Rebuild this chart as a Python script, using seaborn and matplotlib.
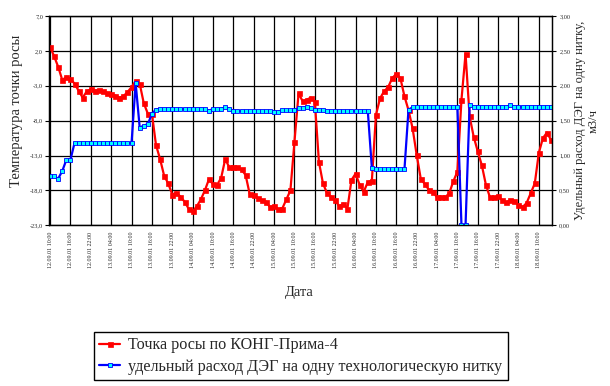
import matplotlib
matplotlib.use("Agg")
import matplotlib.pyplot as plt
import numpy as np
import pandas as pd
import seaborn as sns

# ---------------------------------------------------------------------------
# Data (read off the reference chart, one value per measurement)
# ---------------------------------------------------------------------------

dew_point = [
    2.6, 1.2, -0.3, -2.2, -1.7, -2.0, -2.7, -3.7, -4.7, -3.8,
    -3.5, -3.7, -3.6, -3.8, -4.0, -4.2, -4.4, -4.7, -4.5, -3.9,
    -3.2, -2.3, -2.7, -5.5, -7.0, -7.0, -11.5, -13.5, -15.9, -17.0,
    -18.6, -18.3, -18.9, -19.6, -20.6, -21.0, -20.3, -19.3, -18.0, -16.4,
    -17.1, -17.2, -16.2, -13.5, -14.7, -14.6, -14.7, -15.0, -15.8, -18.5,
    -18.6, -19.1, -19.4, -19.6, -20.4, -20.2, -20.7, -20.6, -19.3, -18.0,
    -11.0, -4.1, -5.2, -5.0, -4.7, -5.3, -13.9, -17.0, -18.4, -18.9,
    -19.4, -20.3, -19.9, -20.6, -16.5, -15.6, -17.2, -18.2, -16.8, -16.6,
    -7.2, -4.8, -3.8, -3.2, -1.9, -1.3, -1.9, -4.5, -6.5, -9.1,
    -12.9, -16.3, -17.1, -17.9, -18.2, -19.0, -18.9, -19.0, -18.4, -16.7,
    -15.3, -5.0, 1.6, -7.4, -10.3, -12.4, -14.4, -17.2, -19.0, -19.0,
    -18.8, -19.4, -19.7, -19.4, -19.5, -20.1, -20.4, -19.8, -18.4, -17.0,
    -12.6, -10.5, -9.7, -10.8,
]

deg_rate = [
    0.70, 0.70, 0.67, 0.78, 0.94, 0.94, 1.18, 1.18, 1.18, 1.18,
    1.18, 1.18, 1.18, 1.18, 1.18, 1.18, 1.18, 1.18, 1.18, 1.18,
    1.18, 2.04, 1.40, 1.43, 1.45, 1.60, 1.66, 1.67, 1.67, 1.67,
    1.67, 1.67, 1.67, 1.67, 1.67, 1.67, 1.67, 1.67, 1.67, 1.64,
    1.67, 1.67, 1.67, 1.69, 1.67, 1.64, 1.64, 1.64, 1.64, 1.64,
    1.64, 1.64, 1.64, 1.64, 1.64, 1.63, 1.63, 1.65, 1.65, 1.65,
    1.65, 1.68, 1.68, 1.70, 1.68, 1.65, 1.65, 1.65, 1.64, 1.64,
    1.64, 1.64, 1.64, 1.64, 1.64, 1.64, 1.64, 1.64, 1.64, 0.82,
    0.80, 0.80, 0.80, 0.80, 0.80, 0.80, 0.80, 0.80, 1.66, 1.69,
    1.69, 1.69, 1.69, 1.69, 1.69, 1.69, 1.69, 1.69, 1.69, 1.69,
    1.69, 0.00, 0.00, 1.72, 1.70, 1.70, 1.70, 1.70, 1.70, 1.70,
    1.70, 1.70, 1.70, 1.72, 1.70, 1.70, 1.70, 1.70, 1.70, 1.70,
    1.70, 1.70, 1.70, 1.70,
]

date_labels = [
    "12.09.01 10:00", "12.09.01 16:00", "12.09.01 22:00", "13.09.01 04:00",
    "13.09.01 10:00", "13.09.01 16:00", "13.09.01 22:00", "14.09.01 04:00",
    "14.09.01 10:00", "14.09.01 16:00", "14.09.01 22:00", "15.09.01 04:00",
    "15.09.01 10:00", "15.09.01 16:00", "15.09.01 22:00", "16.09.01 04:00",
    "16.09.01 10:00", "16.09.01 16:00", "16.09.01 22:00", "17.09.01 04:00",
    "17.09.01 10:00", "17.09.01 16:00", "17.09.01 22:00", "18.09.01 04:00",
    "18.09.01 10:00",
]
LABEL_STEP = 5  # one date label every 5 measurements

left_ticks = [7.0, 2.0, -3.0, -8.0, -13.0, -18.0, -23.0]
right_ticks = [0.0, 0.5, 1.0, 1.5, 2.0, 2.5, 3.0]

dew_label = "Точка росы по КОНГ-Прима-4"
deg_label = "удельный расход ДЭГ на одну технологическую нитку"

# ---------------------------------------------------------------------------
# Plot
# ---------------------------------------------------------------------------

sns.set_style("white")
plt.rcParams["font.family"] = ["Liberation Serif", "DejaVu Serif"]

df = pd.DataFrame({
    "idx": np.arange(len(dew_point)),
    "dew": dew_point,
    "deg": deg_rate,
})

fig = plt.figure(figsize=(6.1, 3.86), dpi=100)
ax = fig.add_axes([0.0808, 0.4163, 0.8246, 0.5422])

sns.lineplot(
    data=df, x="idx", y="dew", ax=ax,
    color="#FF0000", lw=1.6, marker="s", markersize=3.6,
    markerfacecolor="#FF0000", markeredgecolor="#FF0000",
    markeredgewidth=0.5, legend=False,
)

ax2 = ax.twinx()
sns.lineplot(
    data=df, x="idx", y="deg", ax=ax2,
    color="#0000FF", lw=1.6, marker="s", markersize=3.4,
    markerfacecolor="#00FFFF", markeredgecolor="#0000FF",
    markeredgewidth=0.6, legend=False,
)

# ── Axes ──────────────────────────────────────────────────────────────
ax.set_xlim(-0.2, 123.3)
ax.set_ylim(-23, 7)
ax2.set_ylim(0, 3)

tick_pos = np.arange(0, len(date_labels) * LABEL_STEP, LABEL_STEP)
ax.set_xticks(tick_pos)
ax.set_xticklabels(date_labels, rotation=90, fontsize=4.3, va="top")
ax.set_yticks(left_ticks)
ax.set_yticklabels([f"{v:.1f}".replace(".", ",") for v in left_ticks], fontsize=4.5)
ax2.set_yticks(right_ticks)
ax2.set_yticklabels([f"{v:.2f}".replace(".", ",") for v in right_ticks], fontsize=4.5)

ax.tick_params(axis="both", direction="out", length=3, width=0.8, color="black", pad=1.5)
ax2.tick_params(axis="y", direction="out", length=3, width=0.8, color="black", pad=2)
ax.set_xlabel("")
ax.set_ylabel("")
ax2.set_ylabel("")

ax.grid(True, color="black", lw=0.9)
ax.set_axisbelow(True)
for a in (ax, ax2):
    for sp in a.spines.values():
        sp.set_color("black")
        sp.set_linewidth(0.9)

# ── Titles ────────────────────────────────────────────────────────────
fig.text(0.027, 0.712, "Температура точки росы", rotation=90,
         ha="center", va="center", fontsize=10.5)
fig.text(0.962, 0.687, "Удельный расход ДЭГ на одну нитку,\nм3/ч", rotation=90,
         ha="center", va="center", fontsize=9, multialignment="center",
         linespacing=1.15)
fig.text(0.49, 0.2435, "Дата", ha="center", va="center", fontsize=10.5)

# ── Legend ────────────────────────────────────────────────────────────
handles = [ax.lines[0], ax2.lines[0]]
leg = fig.legend(
    handles, [dew_label, deg_label],
    loc="center", bbox_to_anchor=(0.493, 0.0777),
    frameon=True, fancybox=False, framealpha=1, edgecolor="black",
    fontsize=11.6, handlelength=1.3, handletextpad=0.5,
    borderpad=0.35, labelspacing=0.35, borderaxespad=0,
)
leg.get_frame().set_linewidth(1.0)

fig.savefig("out.png", dpi=100)
